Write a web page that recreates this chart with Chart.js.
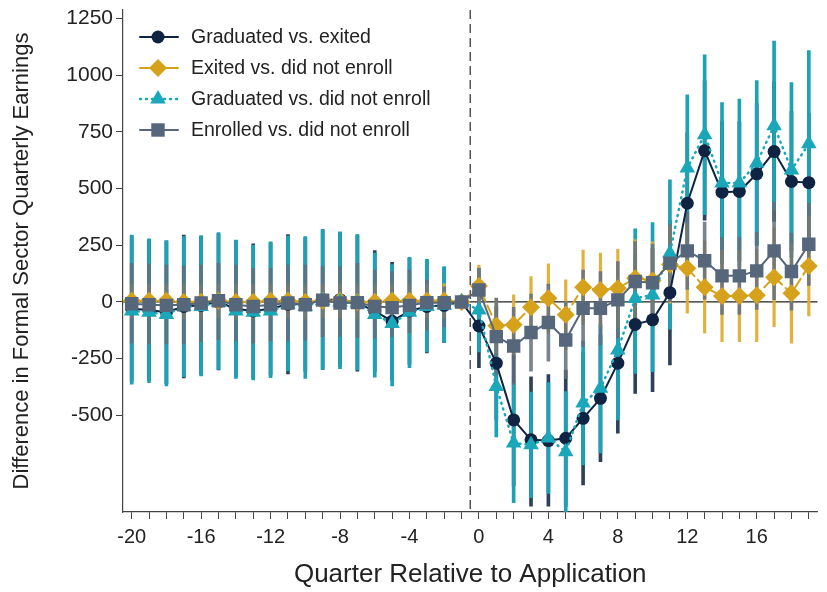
<!DOCTYPE html>
<html lang="en">
<head>
<meta charset="UTF-8">
<title>Formal sector earnings by quarter</title>
<script src="https://cdn.jsdelivr.net/npm/chart.js"></script>
<style>
  body { margin: 0; background: #fff; }
</style>
</head>
<body>
<canvas id="chart" width="827" height="592"></canvas>
<script>
// quarters relative to application (q = -1 is the omitted reference quarter)
const quarters = [-20,-19,-18,-17,-16,-15,-14,-13,-12,-11,-10,-9,-8,-7,-6,-5,-4,-3,-2,-1,
                  0,1,2,3,4,5,6,7,8,9,10,11,12,13,14,15,16,17,18,19];
const xTickLabels = [-20,-16,-12,-8,-4,0,4,8,12,16];
const yTickValues = [-500,-250,0,250,500,750,1000,1250];

// Graduated vs. exited
const gradExit = [-30,-35,-45,-20,-15,0,-30,-40,-30,-10,-10,10,10,-5,-40,-85,-40,-20,-15,0,
                  -106,-270,-520,-608,-611,-601,-513,-425,-270,-99,-79,41,435,667,484,487,565,663,531,526];
const gradExitHi = [290,275,268,295,290,300,270,256,262,297,285,318,305,295,226,175,195,185,150,null,
                    78,-20,-230,-330,-320,-300,-220,-145,40,205,235,360,745,975,795,795,875,970,840,830];
const gradExitLo = [-350,-345,-360,-335,-320,-300,-330,-336,-322,-317,-305,-298,-285,-305,-306,-345,-275,-225,-180,null,
                    -290,-520,-810,-900,-900,-900,-807,-704,-579,-403,-395,-278,125,360,175,180,255,355,225,220];

// Exited vs. did not enroll
const exitNot = [5,5,5,0,0,5,0,0,5,5,0,5,5,0,0,5,5,5,5,0,
                 70,-105,-101,-23,16,-57,65,53,60,105,95,165,148,65,26,26,30,109,38,159];
const exitNotHi = [80,80,80,75,75,80,75,75,80,80,75,80,80,75,75,80,80,80,80,null,
                   163,16,31,112,168,97,229,215,232,275,265,335,346,268,227,227,231,327,258,380];
const exitNotLo = [-70,-70,-70,-75,-75,-70,-75,-75,-70,-70,-75,-70,-70,-75,-75,-70,-70,-70,-70,null,
                   -23,-226,-233,-158,-136,-211,-99,-109,-112,-65,-75,-5,-50,-138,-175,-175,-175,-109,-182,-62];

// Graduated vs. did not enroll
const gradNot = [-40,-45,-55,-20,-20,0,-40,-45,-40,-10,-20,5,0,-5,-55,-95,-45,-20,-15,0,
                 -35,-373,-622,-630,-600,-660,-446,-381,-212,15,31,215,590,737,524,524,612,777,582,697];
const gradNotHi = [295,278,270,288,291,306,273,250,265,290,288,320,309,297,215,165,197,188,156,null,
                   150,-150,-359,-397,-356,-395,-173,-100,96,322,350,538,913,1089,879,894,976,1150,967,1108];
const gradNotLo = [-362,-356,-370,-329,-326,-297,-337,-344,-334,-304,-337,-297,-294,-300,-332,-370,-290,-220,-179,null,
                   -220,-595,-885,-863,-844,-925,-719,-666,-520,-315,-307,-120,267,385,169,154,248,404,197,286];

// Enrolled vs. did not enroll
const enrNot = [-8,-12,-15,-12,-5,5,-12,-20,-12,-5,-12,8,-5,-3,-20,-25,-15,-3,-3,0,
                53,-153,-194,-135,-91,-168,-28,-28,9,90,85,171,225,182,115,115,137,225,134,254];
const enrNotHi = [170,168,163,159,163,170,163,148,148,163,163,156,156,170,141,134,141,97,67,null,
                  148,17,-24,35,79,2,141,134,178,266,255,341,395,352,285,285,307,440,304,435];
const enrNotLo = [-182,-185,-185,-185,-175,-165,-172,-182,-172,-172,-168,-153,-153,-156,-160,-153,-135,-125,-110,null,
                  -42,-323,-364,-305,-261,-338,-197,-190,-160,-86,-85,1,55,12,-55,-55,-33,10,-36,73];

const FONT = '"Liberation Sans", Arial, sans-serif';

const pts = (vals) => quarters.map((q, i) => ({ x: q, y: vals[i] }));
const ci = (lo, hi) => quarters
  .map((q, i) => ({ x: q, y: [lo[i], hi[i]] }))
  .filter(d => d.y[0] !== null && d.y[1] !== null);

const ciBar = (lo, hi, color, width, order) => ({
  type: 'bar', data: ci(lo, hi), backgroundColor: color, borderWidth: 0,
  barThickness: width, grouped: false, order: order
});

const series = (label, vals, color, dash, style, radius, order, width, legendRow, legendDash) => ({
  type: 'line', label: label, data: pts(vals), borderColor: color, backgroundColor: color,
  borderWidth: width, borderDash: dash, borderCapStyle: 'round',
  pointStyle: style, pointRadius: radius, pointBorderWidth: 0, pointHoverRadius: radius,
  order: order, legendRow: legendRow, legendDash: legendDash
});

// dashed line at -0.5 and solid zero line
const refLines = {
  id: 'refLines',
  beforeDatasetsDraw(chart) {
    const { ctx, chartArea: a, scales: { x, y } } = chart;
    ctx.save();
    ctx.strokeStyle = '#222';
    ctx.lineWidth = 1.3;
    const y0 = y.getPixelForValue(0);
    ctx.beginPath(); ctx.moveTo(a.left, y0); ctx.lineTo(a.right, y0); ctx.stroke();
    ctx.strokeStyle = '#555';
    ctx.lineWidth = 1.5;
    ctx.setLineDash([9, 5]);
    const xd = x.getPixelForValue(-0.5);
    ctx.beginPath(); ctx.moveTo(xd, a.top); ctx.lineTo(xd, a.bottom); ctx.stroke();
    ctx.restore();
  }
};

// legend drawn inside the plot, top left
const insideLegend = {
  id: 'insideLegend',
  afterDraw(chart) {
    const { ctx, chartArea: a } = chart;
    const items = chart.data.datasets.filter(d => d.legendRow !== undefined)
      .sort((p, q) => p.legendRow - q.legendRow);
    ctx.save();
    items.forEach((d, i) => {
      const yy = a.top + 27 + i * 31;
      const x0 = a.left + 17, x1 = a.left + 55, xm = a.left + 35;
      ctx.strokeStyle = d.borderColor;
      ctx.fillStyle = d.borderColor;
      ctx.lineWidth = d.borderWidth;
      ctx.lineCap = 'round';
      ctx.setLineDash(d.legendDash || []);
      ctx.beginPath(); ctx.moveTo(x0, yy); ctx.lineTo(x1, yy); ctx.stroke();
      ctx.setLineDash([]);
      Chart.helpers.drawPoint(ctx, { pointStyle: d.pointStyle, radius: d.pointRadius, rotation: 0, borderWidth: 0 }, xm, yy);
      ctx.fillStyle = '#222';
      ctx.font = '19.5px ' + FONT;
      ctx.textBaseline = 'middle';
      ctx.textAlign = 'left';
      ctx.fillText(d.label, a.left + 68, yy + 1);
    });
    ctx.restore();
  }
};

const NAVY = '#0f2443', GOLD = '#d6a21c', TEAL = '#19a7b9', GRAY = '#56667b';

new Chart(document.getElementById('chart'), {
  type: 'bar',
  data: {
    datasets: [
      series('Enrolled vs. did not enroll', enrNot, GRAY, [], 'rect', 9.5, 1, 2, 3, []),
      series('Graduated vs. did not enroll', gradNot, TEAL, [1, 5], 'triangle', 9, 2, 2.5, 2, [1, 5]),
      series('Exited vs. did not enroll', exitNot, GOLD, [10, 5], 'rectRot', 9, 3, 2, 1, []),
      series('Graduated vs. exited', gradExit, NAVY, [], 'circle', 6.5, 4, 2, 0, []),
      ciBar(enrNotLo, enrNotHi, 'rgba(96,110,126,0.85)', 3, 5),
      ciBar(exitNotLo, exitNotHi, 'rgba(224,172,48,0.95)', 2.5, 6),
      ciBar(gradNotLo, gradNotHi, 'rgba(27,163,181,1)', 3, 7),
      ciBar(gradExitLo, gradExitHi, 'rgba(45,65,90,1)', 3, 8)
    ]
  },
  options: {
    responsive: false,
    devicePixelRatio: 1,
    animation: false,
    layout: { padding: { top: 10, right: 1, bottom: 0, left: 0 } },
    plugins: { legend: { display: false }, tooltip: { enabled: false } },
    scales: {
      x: {
        type: 'linear', min: -20.5, max: 19.5, offset: false,
        afterBuildTicks: (s) => { s.ticks = quarters.map(v => ({ value: v })); },
        afterFit: (s) => { s.height = 80; s.paddingLeft = 0; s.paddingRight = 0; },
        ticks: {
          autoSkip: false, maxRotation: 0, padding: 6, color: '#222',
          font: { family: FONT, size: 20 },
          callback: (v) => xTickLabels.includes(v) ? String(v) : ''
        },
        grid: { drawOnChartArea: false, drawTicks: true, tickLength: 7, color: '#444', offset: false },
        border: { display: true, color: '#444', width: 1.2 },
        title: { display: true, text: 'Quarter Relative to Application', color: '#222',
                 font: { family: FONT, size: 26 }, padding: { top: 0, bottom: 2 } }
      },
      y: {
        type: 'linear', min: -926, max: 1287,
        afterBuildTicks: (s) => { s.ticks = yTickValues.map(v => ({ value: v })); },
        afterFit: (s) => { s.width = 123; s.paddingTop = 0; s.paddingBottom = 0; },
        ticks: { padding: 3, color: '#222', font: { family: FONT, size: 21 },
                 callback: (v) => String(v) },
        grid: { drawOnChartArea: false, drawTicks: true, tickLength: 7, color: '#444' },
        border: { display: true, color: '#444', width: 1.2 },
        title: { display: true, text: 'Difference in Formal Sector Quarterly Earnings', color: '#222',
                 font: { family: FONT, size: 22 }, padding: { top: 9, bottom: 0 } }
      }
    }
  },
  plugins: [refLines, insideLegend]
});
</script>
</body>
</html>
